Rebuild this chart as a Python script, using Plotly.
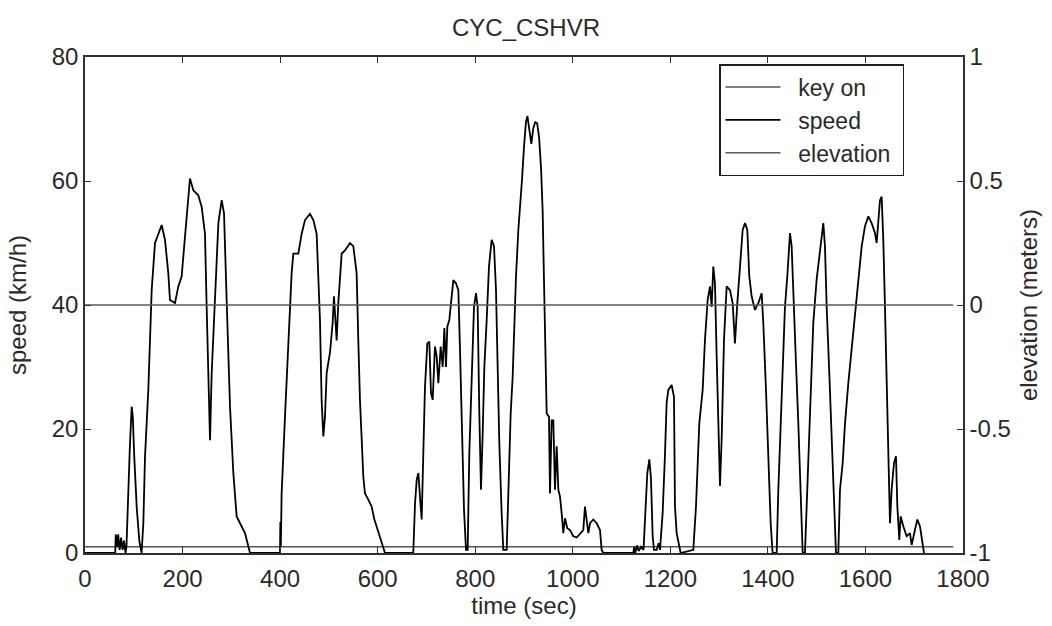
import plotly.graph_objects as go

# ---- data ----
time_s = [0, 60, 62, 63, 66, 68, 71, 74, 77, 80, 83, 85, 88.5, 92, 95.7, 98, 101, 106, 111.4, 114, 116,
          119.6, 123, 129.8, 133.2, 136.7, 143.5, 153.7, 157.2, 164, 170.8, 174.2, 184.5, 191.3, 198.1,
          205, 211.8, 215.2, 222.1, 232.3, 239.2, 246, 249.4, 252.8, 256.3, 259.7, 266.5, 273.4, 280.2,
          285, 290.4, 297.3, 304.1, 310.9, 317.8, 328, 334.9, 338.3, 399.8, 400.5, 401.5, 402.3, 403.1,
          410, 416.8, 423.6, 427.1, 437.3, 444.2, 451, 461.2, 468.1, 474.9, 478.3, 481.7, 485.1, 488.6,
          492, 495.4, 502.2, 507.7, 510.4, 513.2, 515.9, 519.3, 526.2, 533, 543.2, 550.1, 556.9, 560.3,
          563.7, 570.6, 574, 580.8, 587.6, 593, 598, 604.8, 611.6, 615, 673, 676.6, 680, 683.4, 686.8,
          690.2, 693.6, 697, 701.8, 705.9, 709.3, 712.8, 717.5, 721, 724.4, 729.2, 733.3, 736.7, 740.1,
          742.8, 746.9, 751.7, 755.1, 760.6, 765.4, 768.8, 772.2, 777, 781.1, 784.5, 787.9, 792.7, 797.5,
          801.6, 805, 808.4, 811.8, 815.3, 818.7, 823.5, 828.2, 833.7, 838.5, 842.6, 846, 849.4, 854.2,
          857.6, 864.5, 867.9, 872.7, 876.8, 880.2, 883.6, 888.4, 893.2, 895.9, 900, 904, 907, 911, 915,
          919, 923, 927, 931, 935, 938.3, 940, 943, 946.5, 951.2, 953.3, 956.7, 960.1, 963.5, 967, 970.4,
          973.8, 977.2, 980.6, 984, 988.8, 994.3, 1001.1, 1008, 1014.8, 1021.6, 1025, 1028.5, 1031.9,
          1035.3, 1042.1, 1049, 1055.8, 1059.2, 1062.6, 1124, 1126, 1128, 1132, 1135, 1140, 1145, 1148,
          1152.8, 1157, 1160.3, 1163.8, 1166.5, 1172, 1176, 1178.8, 1184.2, 1189, 1192.4, 1195.9, 1202.7,
          1207.5, 1209.5, 1213, 1217.7, 1221.2, 1247.1, 1252.6, 1259.4, 1266.3, 1271, 1276.5, 1281.3,
          1284.7, 1288.1, 1291.5, 1295, 1298.4, 1301.8, 1305.2, 1310, 1315.5, 1322.3, 1327.8, 1332.5,
          1337.3, 1342.8, 1348.3, 1353.1, 1357.8, 1361.9, 1366.7, 1373.5, 1380.4, 1387.2, 1390.6, 1396.1,
          1400.9, 1405.7, 1409.7, 1418, 1421.4, 1428.2, 1435, 1439.8, 1445.3, 1448.7, 1452.1, 1457.6,
          1462.4, 1467.2, 1471.3, 1476, 1479.4, 1486.3, 1493.1, 1499.9, 1506.8, 1513.6, 1517, 1520.5,
          1525.9, 1530.7, 1535.5, 1539.6, 1544.4, 1547.8, 1553.3, 1558.1, 1564.9, 1571.7, 1578.5, 1585.4,
          1592.2, 1599, 1605.9, 1612.7, 1619.5, 1623, 1626.4, 1629.8, 1633.2, 1636.6, 1640, 1643.5,
          1646.9, 1650.3, 1653.7, 1658.5, 1662.6, 1665.4, 1669.4, 1672.2, 1677.6, 1684.5, 1691.3, 1694.7,
          1701.5, 1706.3, 1711.8, 1715.2, 1720]
speed_kmh = [0, 0, 0, 3, 1, 3, 0.5, 2.5, 0.5, 2, 0, 1, 10.2, 17.2, 23.6, 22, 15.5, 7.4, 1.9, 0.5, 0,
             4.8, 15.5, 26.3, 34.3, 42.4, 50, 52.4, 52.9, 50.5, 45.1, 40.8, 40.3, 43, 44.6,
             51, 56.9, 60.4, 58.5, 57.7, 55.8, 51.5, 39.7, 26.3, 18.2, 29, 41.9, 53.2, 56.9,
             54.8, 40.8, 23.6, 12.9, 5.9, 4.8, 3.2, 1.1, 0, 0, 5, 1, 7, 9.6,
             22, 33.3, 45.1, 48.3, 48.3, 51.5, 53.7, 54.7, 53.7, 51.5, 45.1, 37.6, 24.7, 18.8,
             22, 29, 32.3, 37.1, 41.4, 37.6, 34.3, 40.3, 48.3, 48.8, 50, 49.5, 45.1, 34.3,
             24.7, 12.3, 9.6, 8.6, 7.5, 5.5, 4.3, 2.7, 1, 0, 0, 8, 11.8, 12.9, 9,
             5.4, 16.1, 26.8, 33.8, 34.1, 25.8, 24.7, 33.3, 31.7, 27.4, 33.3, 30, 36.3, 30,
             36.5, 37.6, 41.4, 44, 43.5, 42.4, 32.8, 19.9, 7, 0.5, 0.5, 16.1, 30, 39.7,
             41.9, 39.7, 22.5, 10.2, 19.3, 30, 37.6, 46.2, 50.5, 49.5, 42.4, 30.6, 17.7, 6.4,
             0.5, 0.5, 8.6, 22.5, 28.5, 37, 44.6, 52.1, 56.4, 60.2, 65.5, 69.5, 70.5, 68, 66,
             68.5, 69.5, 69.3, 67, 62, 55, 47.8, 34.8, 22.5, 22, 9.6, 21.4, 21.4, 10.2, 17.2, 10.2,
             9.1, 6.4, 3.2, 5.6, 4, 3.7, 2.7, 2.5, 3.2, 3.7, 7.5, 5.6, 3.2,
             4.8, 5.4, 4.8, 3.7, 0.5, 0, 0, 1, 0, 1.2, 0.3, 1, 0.5, 6.4,
             12.9, 15.1, 12, 2.7, 0.5, 0.5, 1.6, 0.5, 6.4, 15.8, 24.2, 26.3, 27.1,
             25.2, 7.5, 3.2, 1.1, 0, 0.5, 7.5, 20.9, 26.3, 34.4, 40.8, 43,
             39.7, 46.2, 43.5, 31.7, 20.9, 10.8, 18.3, 34.4, 43, 42.4, 40.3, 33.8,
             40.3, 46.7, 52.1, 53.2, 52.1, 44.6, 41.4, 39.2, 40.3, 41.9, 37.1, 26.3,
             15.6, 4.8, 0, 0, 10.2, 26.3, 39.7, 44.6, 51.6, 49.5, 41.4, 30.6,
             20.9, 10.2, 0, 0, 7.5, 25.2, 37.1, 44.1, 48.9, 53.2, 49.5, 39.7,
             29, 18.3, 7.5, 0, 0, 10.2, 14.5, 20.9, 27.4, 32.8, 38.7, 43,
             49.4, 52.7, 54.3, 53.2, 51.6, 50, 54.3, 56.9, 57.5, 50.5, 39.7, 29,
             15.6, 4.8, 10.2, 14.5, 15.6, 7.5, 2.1, 5.9, 4.3, 2.7, 3.2, 1.3,
             3.7, 5.4, 4.3, 2.1, 0]

keyon_time = [0, 1780]
keyon_value = [1, 1]
elev_time = [0, 1780]
elev_m = [0, 0]

x_ticks = [0, 200, 400, 600, 800, 1000, 1200, 1400, 1600, 1800]
y_ticks = [0, 20, 40, 60, 80]
y2_ticks = [-1, -0.5, 0, 0.5, 1]
y2_labels = ["-1", "-0.5", "0", "0.5", "1"]

FONT = "Liberation Sans, Arial, Helvetica, sans-serif"
fs = 24
NB = "\u00a0"

fig = go.Figure()
fig.add_trace(go.Scatter(x=keyon_time, y=keyon_value, mode="lines", name=NB * 2 + "key on",
                         line=dict(color="#555555", width=1.6)))
fig.add_trace(go.Scatter(x=time_s, y=speed_kmh, mode="lines", name=NB * 2 + "speed",
                         line=dict(color="#000000", width=1.8)))
fig.add_trace(go.Scatter(x=elev_time, y=elev_m, mode="lines", name=NB * 2 + "elevation" + NB,
                         yaxis="y2", line=dict(color="#5a5a5a", width=1.6)))

axis_common = dict(showgrid=False, zeroline=False, showline=True, linecolor="#303030",
                   linewidth=1.5, ticks="inside", ticklen=6, tickwidth=1.3, tickcolor="#303030",
                   tickfont=dict(family=FONT, size=fs, color="#2a2a2a"))

fig.update_layout(
    width=1052, height=626,
    paper_bgcolor="white", plot_bgcolor="white",
    margin=dict(l=85, r=89, t=57, b=73, autoexpand=False),
    font=dict(family=FONT, size=fs, color="#2a2a2a"),
    title=dict(text="CYC_CSHVR", x=0.5, xanchor="center", y=1 - 28 / 626, yanchor="middle",
               font=dict(family=FONT, size=fs, color="#2a2a2a")),
    xaxis=dict(range=[0, 1800], tickvals=x_ticks, mirror="ticks", ticklabelstandoff=3,
               title=dict(text="time (sec)", standoff=2, font=dict(family=FONT, size=fs)),
               **axis_common),
    yaxis=dict(range=[0, 80], tickvals=y_ticks, mirror=False,
               title=dict(text="speed (km/h)", standoff=18, font=dict(family=FONT, size=fs)),
               **axis_common),
    yaxis2=dict(range=[-1, 1], tickvals=y2_ticks, ticktext=y2_labels, overlaying="y", side="right",
                title=dict(text="elevation (meters)", standoff=10, font=dict(family=FONT, size=fs)),
                **axis_common),
    showlegend=True,
    legend=dict(x=(719 - 85) / 878, y=1 - (64 - 57) / 496, xanchor="left", yanchor="top",
                bgcolor="white", bordercolor="#202020", borderwidth=1.5,
                font=dict(family=FONT, size=23, color="#2a2a2a"),
                tracegroupgap=0, itemwidth=55),
)

fig.write_html("out.html")
